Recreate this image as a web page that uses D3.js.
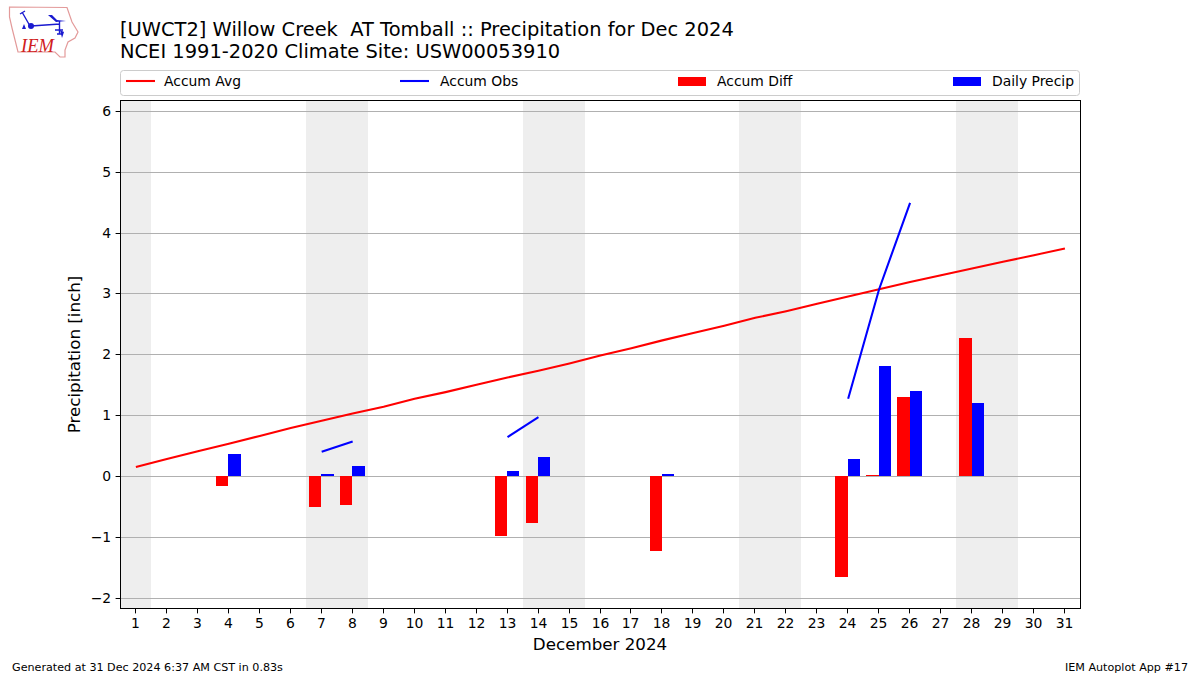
<!DOCTYPE html>
<html><head><meta charset="utf-8">
<script src="https://cdn.jsdelivr.net/npm/d3@7/dist/d3.min.js"></script>
<style>html,body{margin:0;padding:0;background:#fff}svg{display:block}text{font-family:"DejaVu Sans",sans-serif;fill:#000}</style>
</head><body><svg id="c" width="1200" height="675"></svg>
<script>
const days = d3.range(1, 32);
const accumAvg = [0.15,0.28,0.41,0.53,0.66,0.79,0.91,1.03,1.14,1.27,1.38,1.50,1.62,1.73,1.85,1.98,2.10,2.23,2.35,2.47,2.60,2.71,2.83,2.95,3.07,3.19,3.30,3.41,3.52,3.63,3.74];
const obsSegments = [[[7,0.40],[8,0.57]],[[13,0.64],[14,0.97]],[[24,1.27],[25,3.07],[26,4.49]]];
const diffDays = [4,7,8,13,14,18,24,25,26,28];
const diffValues = [-0.17,-0.51,-0.47,-0.98,-0.77,-1.23,-1.66,0.02,1.30,2.27];
const precipDays = [4,7,8,13,14,18,24,25,26,28];
const precipValues = [0.36,0.04,0.17,0.08,0.32,0.04,0.28,1.80,1.40,1.20];
const weekendSpans = [[0.5,1.5],[6.5,8.5],[13.5,15.5],[20.5,22.5],[27.5,29.5]];
const yTicks = [-2,-1,0,1,2,3,4,5,6];
const titleLines = ["[UWCT2] Willow Creek  AT Tomball :: Precipitation for Dec 2024","NCEI 1991-2020 Climate Site: USW00053910"];
const legendItems = ["Accum Avg","Accum Obs","Accum Diff","Daily Precip"];

const svg = d3.select("#c");
const L=120.5,R=1080.5,T=100.5,B=608.5;
const x = d3.scaleLinear().domain([0.5,31.5]).range([120,1080]);
const y = d3.scaleLinear().domain([-2.168,6.177]).range([B,T]);
const barW = 0.4;
const sx = v=>Math.round(x(v));
const sy = v=>Math.round(y(v)-0.5);
const gy0 = v=>Math.floor(y(v))+.5;

svg.append("g").selectAll("rect").data(weekendSpans).join("rect")
 .attr("x",d=>sx(d[0])).attr("width",d=>sx(d[1])-sx(d[0])).attr("y",T).attr("height",B-T).attr("fill","#eeeeee");
svg.append("g").selectAll("line").data(yTicks).join("line")
 .attr("x1",L).attr("x2",R).attr("y1",gy0).attr("y2",gy0).attr("stroke","#b0b0b0").attr("stroke-width",1.1);

svg.append("g").selectAll("rect").data(diffDays).join("rect")
 .attr("x",d=>sx(d-barW)).attr("width",d=>sx(d)-sx(d-barW))
 .attr("y",(d,i)=>sy(Math.max(0,diffValues[i]))).attr("height",(d,i)=>Math.abs(sy(diffValues[i])-sy(0))).attr("fill","#ff0000");
svg.append("g").selectAll("rect").data(precipDays).join("rect")
 .attr("x",d=>sx(d)).attr("width",d=>sx(d+barW)-sx(d))
 .attr("y",(d,i)=>sy(precipValues[i])).attr("height",(d,i)=>sy(0)-sy(precipValues[i])).attr("fill","#0000ff");

const line = d3.line().x(d=>x(d[0])+0.4).y(d=>y(d[1])-0.4);
svg.append("path").attr("d",line(days.map((d,i)=>[d,accumAvg[i]]))).attr("fill","none").attr("stroke","#ff0000").attr("stroke-width",2.08);
svg.append("g").selectAll("path").data(obsSegments).join("path").attr("d",line).attr("fill","none").attr("stroke","#0000ff").attr("stroke-width",2.08);

svg.append("rect").attr("x",L).attr("y",T).attr("width",R-L).attr("height",B-T).attr("fill","none").attr("stroke","#000").attr("stroke-width",1);

const xAxis = d3.axisBottom(x).tickValues(days).tickFormat(d3.format("d")).tickSize(4.9).tickPadding(4.5).offset(0);
const gx = svg.append("g").attr("transform",`translate(0,${B})`).call(xAxis);
const yAxis = d3.axisLeft(y).tickValues(yTicks).tickFormat(d=>d<0?"\u2212"+(-d):d).tickSize(4.9).tickPadding(4.5);
const gyy = svg.append("g").attr("transform",`translate(${L},0)`).call(yAxis);
[gx,gyy].forEach(g=>{g.select(".domain").remove();g.selectAll("text").style("font-size","13.9px").style("font-family",'"DejaVu Sans"');g.selectAll("line").attr("stroke","#000");});
gx.selectAll(".tick").attr("transform",d=>`translate(${Math.floor(x(d))+.5},0)`);
gyy.selectAll(".tick").attr("transform",d=>`translate(0,${gy0(d)})`);

svg.append("text").attr("x",600).attr("y",650).attr("text-anchor","middle").style("font-size","16.7px").text("December 2024");
svg.append("text").attr("transform","translate(80,354.5) rotate(-90)").attr("text-anchor","middle").style("font-size","16.7px").text("Precipitation [inch]");
svg.append("g").selectAll("text").data(titleLines).join("text").attr("x",120).attr("y",(d,i)=>i?57.5:35.5).style("font-size","19.45px").style("white-space","pre").attr("xml:space","preserve").text(d=>d);

svg.append("text").attr("x",12).attr("y",670.5).style("font-size","11.15px").text("Generated at 31 Dec 2024 6:37 AM CST in 0.83s");
svg.append("text").attr("x",1188).attr("y",670.5).attr("text-anchor","end").style("font-size","11.15px").text("IEM Autoplot App #17");

// legend
const lg = svg.append("g");
lg.append("rect").attr("x",120.5).attr("y",70.5).attr("width",959).attr("height",25).attr("rx",3).attr("fill","#fff").attr("stroke","#cccccc");
const swX=[126,400,678,953], txX=[164,440,717,992], cols=["#ff0000","#0000ff","#ff0000","#0000ff"];
legendItems.forEach((t,i)=>{
  if(i<2) lg.append("line").attr("x1",swX[i]).attr("x2",swX[i]+29).attr("y1",81).attr("y2",81).attr("stroke",cols[i]).attr("stroke-width",2.08);
  else lg.append("rect").attr("x",swX[i]).attr("y",77).attr("width",28).attr("height",9).attr("fill",cols[i]);
  lg.append("text").attr("x",txX[i]).attr("y",86).style("font-size","13.9px").text(t);
});

// logo
const logo = svg.append("g");
logo.append("path").attr("d","M9.5 7 L67 7.5 L72 22 L78 32 L75 38 L68 42 L65 50 L65 57 L60 57 L55 52 L18 52 L12 28 L9.5 17 Z").attr("fill","#fff").attr("stroke","#e39a9a").attr("stroke-width",1.2);
logo.append("path").attr("d","M31 26 L60 24 M59.5 21 L59.5 34 M22 12 L30 26 M20 14 L25 11 M55 30 L63 30 M57 34 L63 34").attr("fill","none").attr("stroke","#1a1ad0").attr("stroke-width",1.4);
logo.append("circle").attr("cx",31).attr("cy",26).attr("r",3).attr("fill","#1a1ad0");
logo.append("path").attr("d","M48 15 L52 15 L57 20 L66 21 L56 22 Z").attr("fill","#1a1ad0");
logo.append("path").attr("d","M24 24 L26 29 L22 29 Z M60 30 L64 32 L62 38 Z").attr("fill","#1a1ad0");
logo.append("text").attr("x",21).attr("y",52).style("font-family",'"Liberation Serif"').style("font-style","italic").style("font-size","18.5px").style("fill","#d02020").text("IEM");
</script></body></html>
